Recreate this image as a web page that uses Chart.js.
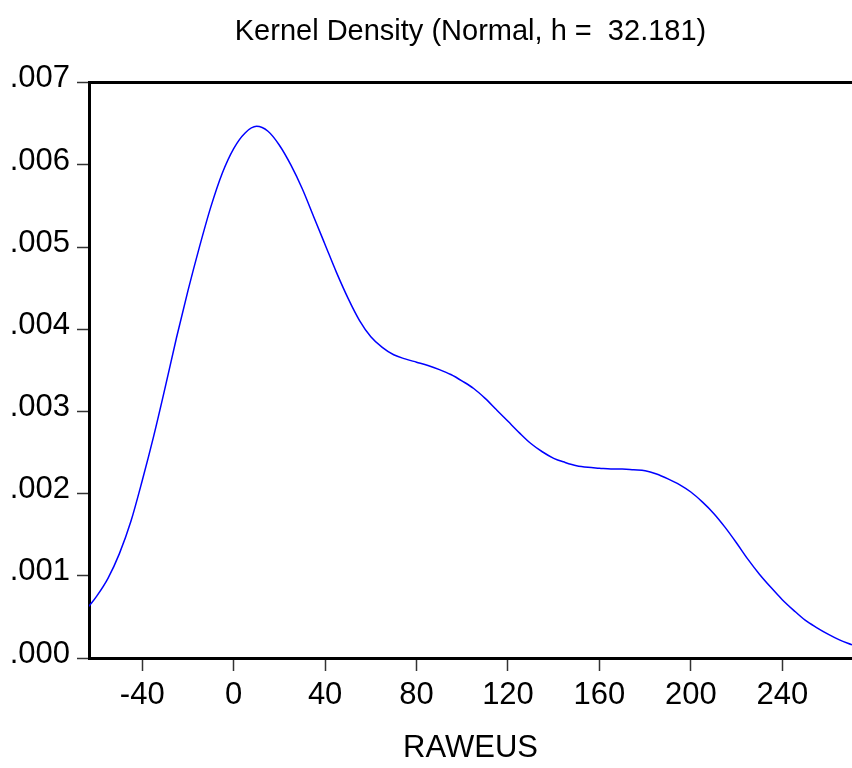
<!DOCTYPE html>
<html>
<head>
<meta charset="UTF-8">
<title>Kernel Density</title>
<script src="https://cdn.jsdelivr.net/npm/chart.js"></script>
<style>
    body { margin: 0; background: #fff; }
    #wrap { width: 852px; height: 768px; }
</style>
</head>
<body>
<div id="wrap"><canvas id="kd" width="852" height="768"></canvas></div>
<script>
// RAWEUS values
const rawX = [-63.3, -60, -55, -50, -45, -40, -35, -30, -25, -20, -15, -10, -5, 0, 5, 10, 15, 20, 25, 30,
    35, 40, 45, 50, 55, 60, 65, 70, 75, 80, 85, 90, 95, 100, 105, 110, 115, 120, 125, 130,
    135, 140, 145, 150, 155, 160, 165, 170, 175, 180, 185, 190, 195, 200, 205, 210, 215, 220, 225, 230,
    235, 240, 245, 250, 255, 260, 265, 270.5];
// density
const density = [0.00063, 0.00075, 0.00097, 0.00127, 0.00166, 0.00216, 0.00270, 0.00329, 0.00390, 0.00447,
    0.00500, 0.00549, 0.00590, 0.00620, 0.00639, 0.00647, 0.00641, 0.00624, 0.00600, 0.00571,
    0.00537, 0.00503, 0.00469, 0.00438, 0.00411, 0.00391, 0.00378, 0.00369, 0.00364, 0.00360,
    0.00356, 0.00351, 0.00345, 0.00337, 0.00328, 0.00316, 0.00302, 0.00288, 0.00274, 0.00261,
    0.00251, 0.00243, 0.00238, 0.00234, 0.00232, 0.00231, 0.00230, 0.00230, 0.00229, 0.00228,
    0.00224, 0.00218, 0.00211, 0.00202, 0.00190, 0.00176, 0.00159, 0.00140, 0.00120, 0.00102,
    0.00086, 0.00071, 0.00058, 0.00046, 0.00037, 0.00029, 0.00022, 0.00016];

const xTicks = [-40, 0, 40, 80, 120, 160, 200, 240];
const yTicks = [0, 0.001, 0.002, 0.003, 0.004, 0.005, 0.006, 0.007];
const yTickLabels = ['.000', '.001', '.002', '.003', '.004', '.005', '.006', '.007'];

const FONT = "'Liberation Sans', Arial, sans-serif";

const points = rawX.map((x, i) => ({ x: x, y: density[i] }));

new Chart(document.getElementById('kd'), {
    type: 'line',
    data: {
        datasets: [{
            data: points,
            borderColor: '#0000ff',
            borderWidth: 1.5,
            pointRadius: 0,
            cubicInterpolationMode: 'monotone',
            fill: false
        }]
    },
    options: {
        responsive: false,
        animation: false,
        layout: { padding: 0 },
        plugins: {
            legend: { display: false },
            tooltip: { enabled: false },
            title: {
                display: true,
                fullSize: false,
                text: 'Kernel Density (Normal, h =  32.181)',
                color: '#000',
                font: { family: FONT, size: 29, weight: 'normal' },
                padding: { top: 15, bottom: 33 }
            }
        },
        scales: {
            x: {
                type: 'linear',
                min: -63.3,
                max: 270.5,
                afterFit: s => { s.height = 110; },
                afterBuildTicks: s => { s.ticks = xTicks.map(v => ({ value: v })); },
                border: { display: true, color: '#000', width: 3 },
                grid: { drawOnChartArea: false, drawTicks: true, tickLength: 13, tickColor: '#333', tickWidth: 1.5 },
                ticks: {
                    color: '#000',
                    padding: 6,
                    maxRotation: 0,
                    font: { family: FONT, size: 31 },
                    callback: v => String(v)
                },
                title: {
                    display: true,
                    text: 'RAWEUS',
                    color: '#000',
                    font: { family: FONT, size: 31 },
                    padding: { top: 0, bottom: 1 }
                }
            },
            xTop: {
                type: 'linear',
                position: 'top',
                min: -63.3,
                max: 270.5,
                afterFit: s => { s.height = 0; },
                border: { display: true, color: '#000', width: 3 },
                grid: { display: false },
                ticks: { display: false }
            },
            y: {
                min: 0,
                max: 0.007,
                afterFit: s => { s.width = 89; },
                afterBuildTicks: s => { s.ticks = yTicks.map(v => ({ value: v })); },
                border: { display: true, color: '#000', width: 3 },
                grid: { drawOnChartArea: false, drawTicks: true, tickLength: 12, tickColor: '#333', tickWidth: 1.5 },
                ticks: {
                    color: '#000',
                    padding: 7,
                    labelOffset: -4,
                    font: { family: FONT, size: 31 },
                    callback: (v, i) => yTickLabels[i]
                }
            }
        }
    }
});
</script>
</body>
</html>
